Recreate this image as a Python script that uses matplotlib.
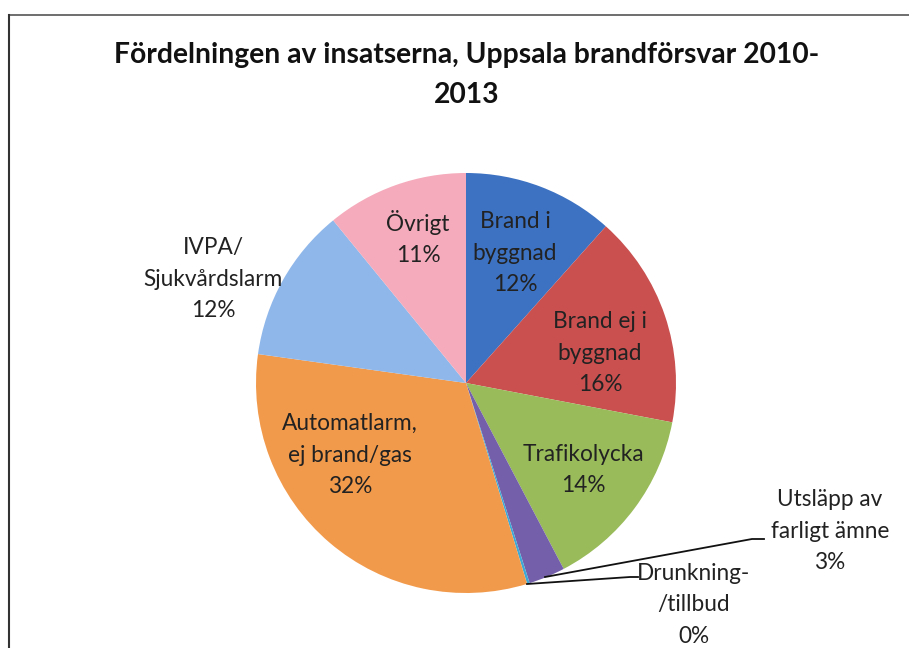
import matplotlib
matplotlib.use("Agg")
import matplotlib.pyplot as plt
from matplotlib.lines import Line2D

plt.rcParams['font.family'] = ['Lato', 'DejaVu Sans']

title = "Fördelningen av insatserna, Uppsala brandförsvar 2010-\n2013"
categories = ["Brand i\nbyggnad", "Brand ej i\nbyggnad", "Trafikolycka",
              "Utsläpp av\nfarligt ämne", "Drunkning-\n/tillbud",
              "Automatlarm,\nej brand/gas", "IVPA/\nSjukvårdslarm", "Övrigt"]
values = [11.6, 16.4, 14.3, 2.8, 0.2, 31.9, 11.9, 10.9]
pct_labels = ["12%", "16%", "14%", "3%", "0%", "32%", "12%", "11%"]

colors = ["#3d72c2", "#c9504f", "#99bb5a", "#7460aa", "#3fa9d6",
          "#f29a4c", "#8fb7ea", "#f5abbb"]

W, H = 909, 648
cx, cy, R = 466, 383, 210  # pie centre / radius in pixels

fig = plt.figure(figsize=(W / 100, H / 100), dpi=100)
ax = fig.add_axes([0, 0, 1, 1])
wedges, _ = ax.pie(values, colors=colors, startangle=90, counterclock=False,
                   radius=1.0, wedgeprops=dict(linewidth=0))
ax.set_xlim((0 - cx) / R, (W - cx) / R)
ax.set_ylim((cy - H) / R, (cy - 0) / R)
ax.set_aspect('auto')
ax.axis('off')

def px(x, y):
    return ((x - cx) / R, (cy - y) / R)

# label placement (pixels) - layout only
label_pos = [(515, 253), (600, 353), (583, 470), (830, 531),
             (694, 605), (350, 455), (213, 279), (418, 238)]
fs = 16.3
for name, pct, (lx, ly) in zip(categories, pct_labels, label_pos):
    x, y = px(lx, ly)
    ax.text(x, y, name + "\n" + pct, ha='center', va='center', fontsize=fs,
            color='#222222', linespacing=1.63)

# leader lines
leaders = [
    [(545, 577), (752, 539), (764, 539)],
    [(527, 584), (630, 577), (638, 577)],
]
for pts in leaders:
    xs, ys = zip(*[px(a, b) for a, b in pts])
    ax.plot(xs, ys, color='#111111', lw=1.3)

fig.text(467 / W, 1 - 75 / H, title, ha='center', va='center',
         fontsize=20.3, fontweight='bold', color='#111111', linespacing=1.66)

# chart frame (top and left edges visible)
fig.add_artist(Line2D([9 / W, 1], [1 - 15 / H, 1 - 15 / H], color='#555555', lw=1.2))
fig.add_artist(Line2D([9 / W, 9 / W], [0, 1 - 15 / H], color='#333333', lw=1.5))

fig.savefig("out.png", dpi=100)
